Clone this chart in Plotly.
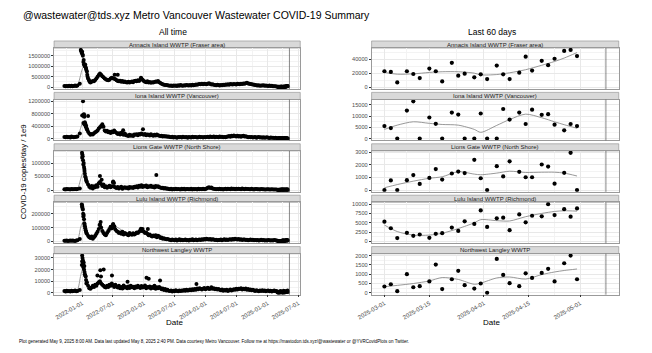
import pandas as pd
import plotly.graph_objects as go

nan = float("nan")
W, H = 652, 353
FONT = "Liberation Sans, Arial, sans-serif"

SITES = [
    "Annacis Island WWTP (Fraser area)",
    "Iona Island WWTP (Vancouver)",
    "Lions Gate WWTP (North Shore)",
    "Lulu Island WWTP (Richmond)",
    "Northwest Langley WWTP",
]

TITLE = "@wastewater@tds.xyz Metro Vancouver Wastewater COVID-19 Summary"
FOOTER = ("Plot generated May 9, 2025 8:00 AM. Data last updated May 8, 2025 2:40 PM. "
          "Data courtesy Metro Vancouver. Follow me at https://mastodon.tds.xyz/@wastewater "
          "or @YVRCovidPlots on Twitter.")
GENERATED = "2025-05-09"

# ---------------- "All time" data: weekly readings (thousands), from 2021-09-18 ----------------
WEEKLY_START = "2021-09-18"

annacis_weekly_k = [
    55, 45, 60, 40, 70, 50, 65, 45, 60, 75, 55, 80, nan, 160, nan,
    1700, 1200, 1050, 950, 750, 420,
    300, 230, 260, 300, 280, 340, 420, 500, 580, 650,
    600, 520, 470, 420, 380, 340, 330, 360, 410, 450,
    430, 400, 380, 330, 300, 280, 310, 260, 290, 250,
    270, 240, 230, 260, 220, 250, 270, 240, 290, 310,
    280, 330, 300, 360, 420, 350, 300, 260, 240, 280,
    230, 250, 210, 240, 220, 250, 270, 260, 290, 240,
    200, 160, 140, 120, 100, 110, 90, 80, 70, 85,
    60, 75, 65, 80, 60, 90, 70, 100, 85, 65,
    95, 80, 110, 90, 75, 100, 85, 120, 95, 110,
    130, 120, 140, 150, 135, 160, 145, 170, 150, 140,
    160, 190, 150, 130, 140, 120, 110, 90, 120, 100,
    85, 110, 95, 120, 105, 130, 115, 135, 120, 150,
    140, 125, 155, 145, 130, 160, 150, 140, 170, 155,
    175, 160, 190, 210, 180, 170, 150, 140, 130, 120,
    100, 90, 80, 95, 70, 85, 75, 90, 65, 80,
    70, 60, 75, 55, 65, 50, 45, 40, 35,
]
iona_weekly_k = [
    50, 40, 60, 45, 55, 35, 65, 50, 40, 55, 60, 70, nan, 160, nan,
    740, 500, 450, 380, 300, 220,
    160, 120, 150, 130, 170, 200, 230, 260, 320, 360,
    400, 460, 380, 260, 230, 250, 200, 220, 180, 230,
    200, 260, 210, 180, 150, 170, 130, 190, 140, 120,
    160, 110, 100, 80, 120, 90, 110, 85, 130, 120,
    140, 110, 150, 130, 160, 140, 120, 150, 110, 130,
    120, 100, 140, 110, 90, 120, 100, 130, 110, 95,
    80, 90, 70, 85, 65, 75, 60, 70, 55, 40,
    60, 35, 50, 45, 30, 55, 40, 50, 35, 60,
    45, 40, 55, 30, 50, 45, 35, 60, 40, 50,
    55, 35, 45, 60, 40, 50, 35, 55, 45, 50,
    60, 45, 70, 55, 50, 65, 40, 60, 55, 45,
    70, 50, 60, 45, 55, 40, 60, 70, 85, 60,
    90, 75, 100, 80, 65, 95, 70, 85, 60, 80,
    90, 65, 75, 60, 45, 55, 40, 50, 35, 45,
    55, 30, 40, 50, 35, 45, 30, 40, 25, 35,
    45, 30, 20, 35, 25, 30, 20, 28, 18,
]
lions_weekly_k = [
    3, 2, 3.5, 2.5, 3, 2, 4, 3, 2.5, 3.5, 3, 4, nan, 6, nan,
    120, 95, 70, 45, 30, 20,
    12, 8, 15, 6, 14, 10, 18, 12, 25, 30,
    22, 15, 20, 10, 14, 8, 12, 16, 10, 14,
    28, 12, 9, 7, 11, 6, 9, 12, 5, 8,
    10, 7, 9, 6, 11, 8, 10, 7, 12, 10,
    14, 9, 16, 12, 18, 11, 15, 13, 17, 10,
    14, 12, 16, 11, 13, 9, 15, 12, 14, 10,
    9, 7, 8, 6, 7, 5, 6, 4, 3, 5,
    2, 4, 3, 5, 2.5, 4, 3, 2, 4.5, 3,
    5, 2, 3.5, 4, 2.5, 3, 5, 2, 4, 3,
    3.5, 2, 4.5, 3, 4, 2.5, 5, 3, 4, 6,
    8, 10, 7, 9, 6, 5, 4, 3, 4, 2.5,
    5, 3, 4, 2, 3.5, 4.5, 3, 5, 4, 3,
    6, 4, 5, 3, 4.5, 3.5, 5, 4, 3, 6,
    4, 3, 5, 3.5, 4, 2.5, 3, 4.5, 3, 2,
    3.5, 4, 2.5, 3, 2, 3.5, 2.5, 3, 2, 1.5,
    3, 2.5, 2, 1.5, 2.5, 2, 1.8, 2.2, 1.5,
]
lulu_weekly_k = [
    5, 4, 6, 3, 5, 7, 4, 6, 5, 3, 6, 8, nan, 17, nan,
    250, 180, 120, 80, 55, 40,
    30, 25, 35, 20, 30, 40, 55, 70, 90, 120,
    100, 75, 60, 50, 45, 60, 75, 90, 105, 95,
    120, 100, 85, 75, 70, 60, 65, 55, 70, 50,
    60, 55, 50, 45, 60, 52, 48, 58, 50, 55,
    65, 60, 70, 80, 75, 90, 70, 60, 65, 55,
    45, 50, 40, 35, 42, 38, 45, 30, 40, 35,
    25, 28, 20, 22, 18, 15, 17, 14, 12, 8,
    14, 10, 9, 13, 7, 11, 15, 9, 12, 8,
    10, 14, 9, 11, 7, 12, 10, 15, 8, 11,
    13, 9, 12, 14, 10, 16, 12, 18, 14, 20,
    16, 14, 18, 12, 15, 13, 10, 12, 9, 11,
    10, 13, 9, 12, 15, 11, 14, 10, 13, 16,
    12, 18, 14, 20, 16, 13, 17, 12, 15, 11,
    14, 13, 10, 12, 9, 11, 14, 10, 12, 9,
    10, 8, 11, 7, 9, 12, 8, 10, 6, 9,
    7, 11, 8, 6, 9, 7, 10, 8, 6,
]
langley_weekly_k = [
    1.5, 1.2, 1.8, 1.4, 1.6, 1.1, 1.7, 1.3, 1.5, 1.9, 1.4, 1.6, nan, 2.5, nan,
    27, 22, 18, 14, 9, 6,
    4, 3.5, 4.5, 6, 5, 7, 6, 8, 9, 10,
    8, 7, 6, 5, 4.5, 6, 5, 7, 6, 8,
    6.5, 5, 7, 5.5, 4.5, 6, 4, 5, 3.8, 6.2,
    4.5, 5, 4, 5.5, 4.2, 6, 4.8, 5.2, 4, 5.5,
    4.5, 6, 5, 4.2, 5.8, 4.6, 5, 6.2, 4, 5,
    4.5, 5.5, 3.8, 5, 4.2, 6, 3.5, 4.8, 4, 5,
    4.2, 3, 3.8, 2.5, 3.2, 2, 2.6, 1.8, 1.5, 2,
    1.2, 1.8, 1.4, 2.2, 1.6, 1.3, 1.9, 1.5, 2.1, 1.7,
    2.4, 1.8, 2.6, 2, 2.3, 2.8, 2.2, 3, 2.5, 3.2,
    2.6, 3.8, 3, 4, 3.4, 2.8, 3.6, 4.2, 3, 3.8,
    4.4, 3.2, 3.6, 4.8, 3.4, 4, 3, 3.5, 2.8, 3.2,
    2.6, 2.2, 2.8, 1.8, 2.4, 2, 2.6, 1.6, 2.2, 2.8,
    2, 2.4, 3, 2.6, 3.4, 2.8, 3.6, 3.2, 4, 2.8,
    3.4, 3, 3.8, 2.6, 3.2, 2.4, 2.9, 2.2, 2.6, 2,
    1.6, 2.2, 1.8, 1.4, 2, 1.6, 2.3, 1.5, 1.9, 1.3,
    1.7, 2.1, 1.4, 1.8, 1.2, 1.6, 1.9, 1.3, 1.5,
]

# extra (peak / outlier) readings, thousands
annacis_extra_dates = ["2021-12-24", "2021-12-27", "2021-12-29", "2022-01-03", "2022-01-05", "2022-01-10",
                       "2022-01-12", "2022-01-17", "2022-01-19", "2022-01-24", "2022-01-26", "2022-01-31",
                       "2022-02-02", "2022-02-09", "2022-02-16", "2022-07-12", "2022-07-30", "2022-12-14"]
annacis_extra_k = [1780, 1720, 1650, 1580, 1500, 1300, 1100, 1000, 1080, 880, 820, 600, 500, 350, 250, 600, 590, 450]

iona_extra_dates = ["2022-01-06", "2022-01-08", "2022-01-10", "2022-01-12", "2022-01-14", "2022-01-17",
                    "2022-01-19", "2022-01-24", "2022-01-26", "2022-01-31", "2022-02-05", "2022-08-31",
                    "2022-12-26"]
iona_extra_k = [1190, 760, 720, 780, 700, 520, 480, 420, 350, 280, 720, 270, 300]

lions_extra_dates = ["2021-12-31", "2022-01-02", "2022-01-04", "2022-01-06", "2022-01-10", "2022-01-12",
                     "2022-01-14", "2022-01-17", "2022-01-19", "2022-01-24", "2022-01-26", "2022-04-16",
                     "2022-04-26", "2022-07-03", "2022-07-08", "2023-03-15"]
lions_extra_k = [138, 132, 125, 110, 100, 85, 78, 60, 50, 38, 33, 52, 38, 32, 26, 56]

lulu_extra_dates = ["2021-12-30", "2022-01-01", "2022-01-03", "2022-01-05", "2022-01-07", "2022-01-10",
                    "2022-01-12", "2022-01-14", "2022-01-17", "2022-01-19", "2022-01-24", "2022-01-26",
                    "2022-04-14", "2022-04-20", "2022-07-03", "2022-07-10", "2022-12-14", "2023-01-24"]
lulu_extra_k = [268, 255, 240, 230, 200, 190, 160, 130, 110, 95, 70, 60, 118, 140, 125, 110, 92, 90]

langley_extra_dates = ["2021-12-30", "2022-01-01", "2022-01-03", "2022-01-05", "2022-01-07", "2022-01-10",
                       "2022-01-12", "2022-01-14", "2022-01-17", "2022-01-19", "2022-01-24", "2022-01-26",
                       "2022-04-01", "2022-04-18", "2022-04-22", "2022-05-08", "2022-06-26", "2022-09-26",
                       "2023-01-16", "2023-01-29", "2023-04-06", "2023-11-07"]
langley_extra_k = [24, 32, 30, 28, 25, 26, 20, 23, 16, 15, 11, 8, 15, 19.5, 14, 20, 15, 9.5, 13, 12, 10.5, 7.5]

# smoothed trend (grey line) in the "All time" panels, thousands
SMOOTH_ALL_DATES = ["2021-09-20", "2021-11-01", "2021-12-01", "2021-12-12", "2021-12-22", "2022-01-01",
                    "2022-01-09", "2022-01-20", "2022-02-05", "2022-03-01", "2022-04-15", "2022-06-01",
                    "2022-07-15", "2022-10-01", "2022-12-15", "2023-03-01", "2023-06-01", "2023-09-01",
                    "2024-01-01", "2024-05-01", "2024-09-01", "2025-01-01", "2025-04-30"]
annacis_smooth_k = [55, 55, 60, 250, 550, 850, 960, 800, 400, 280, 580, 350, 420, 260, 330, 240, 90, 75, 130, 110, 140, 70, 45]
iona_smooth_k = [50, 50, 55, 150, 320, 470, 510, 400, 220, 150, 350, 210, 220, 110, 140, 110, 50, 45, 55, 50, 75, 35, 8]
lions_smooth_k = [3, 3, 3, 15, 38, 58, 67, 50, 20, 12, 22, 12, 15, 8, 13, 11, 4, 3.5, 6, 3.5, 4, 3, 1.5]
lulu_smooth_k = [5, 5, 6, 35, 95, 130, 140, 110, 45, 28, 105, 55, 105, 55, 75, 38, 12, 11, 16, 11, 14, 8, 6]
langley_smooth_k = [1.5, 1.5, 1.5, 6, 14, 19.5, 21, 15, 5.5, 5, 9, 5.5, 5.5, 4.8, 5, 4.5, 1.8, 2.3, 3.6, 2.5, 3, 1.7, 1.2]

# ---------------- "Last 60 days" data ----------------
RECENT_DATES = ["2025-03-01", "2025-03-03", "2025-03-05", "2025-03-08", "2025-03-10", "2025-03-12",
                "2025-03-15", "2025-03-17", "2025-03-19", "2025-03-22", "2025-03-24", "2025-03-26",
                "2025-03-29", "2025-03-31", "2025-04-02", "2025-04-05", "2025-04-07", "2025-04-09",
                "2025-04-12", "2025-04-14", "2025-04-16", "2025-04-19", "2025-04-21", "2025-04-23",
                "2025-04-26", "2025-04-28", "2025-04-30"]
annacis_recent = [22700, 21700, 6800, 22700, 18800, 13000, 26500, 22700, 8200, 34700, 16400, 19300, 14000,
                  18300, 11600, 30800, 18300, 11600, 20700, 43400, 23600, 37600, 31300, 40500, 51600, 53000, 44300]
iona_recent = [5600, 4700, 0, 12500, 16600, 0, 9400, 6600, 0, 11600, 10700, 0, 0,
               11200, 0, 0, 13200, 8500, 11600, 6500, 12900, 10600, 10900, 6200, 3700, 6500, 5600]
lions_recent = [0, 760, 0, 780, 1180, 480, 960, 1660, 830, 1310, 1460, 1340, 2390,
                930, 0, 1890, 1080, 2270, 1440, 1010, 1010, 2020, 1860, 500, 1360, 2950, 0]
lulu_recent = [5300, 3540, 890, 2300, 1500, 1860, 970, 2040, 2210, 3720, 2830, 5400, 4690,
               8320, 3890, 6190, 6370, 3010, 7260, 5130, 6900, 6730, 10000, 7080, 8670, 6640, 8850]
langley_recent = [340, 460, 90, 1000, 300, 360, 610, 1520, 200, 730, 1180, 410, 230,
                  500, 0, 1820, 960, 520, 360, 1050, 800, 1070, 1290, 610, 1590, 2000, 730]

RECENT_SMOOTH_DATES = ["2025-03-01", "2025-03-05", "2025-03-10", "2025-03-15", "2025-03-19", "2025-03-24",
                       "2025-03-29", "2025-03-31", "2025-04-05", "2025-04-09", "2025-04-14", "2025-04-19",
                       "2025-04-23", "2025-04-26", "2025-04-30"]
annacis_recent_smooth = [21000, 18500, 19000, 21000, 22000, 22000, 20000, 17600, 18000, 20500, 24900, 31200, 36600, 41500, 49300]
iona_recent_smooth = [4100, 6000, 7500, 6800, 6300, 6000, 4100, 2800, 5900, 8500, 10900, 9300, 7500, 6200, 4600]
lions_recent_smooth = [180, 430, 700, 930, 1050, 1450, 1260, 1210, 1340, 1490, 1390, 1410, 1410, 1340, 1110]
lulu_recent_smooth = [4400, 2650, 1700, 1700, 2200, 3450, 5000, 5840, 5580, 5490, 6640, 7520, 8050, 8230, 8140]
langley_recent_smooth = [330, 400, 500, 640, 820, 720, 460, 520, 800, 850, 740, 980, 1120, 1200, 1280]

# ---------------- axes ticks ----------------
ALL_X_TICKS = ["2022-01-01", "2022-07-01", "2023-01-01", "2023-07-01", "2024-01-01",
               "2024-07-01", "2025-01-01", "2025-07-01"]
ALL_X_MINOR = ["2021-10-01", "2022-04-01", "2022-10-01", "2023-04-01", "2023-10-01",
               "2024-04-01", "2024-10-01", "2025-04-01"]
ALL_X_RANGE = ["2021-07-19", "2025-07-12"]
RECENT_X_TICKS = ["2025-03-01", "2025-03-15", "2025-04-01", "2025-04-15", "2025-05-01"]
RECENT_X_MINOR = ["2025-03-08", "2025-03-23 12:00", "2025-04-08", "2025-04-23", "2025-05-08 12:00"]
RECENT_X_RANGE = ["2025-02-25", "2025-05-13"]

ALL_Y_TICKS = [
    [0, 500000, 1000000, 1500000],
    [0, 400000, 800000, 1200000],
    [0, 50000, 100000],
    [0, 100000, 200000],
    [0, 10000, 20000, 30000],
]
RECENT_Y_TICKS = [
    [0, 20000, 40000],
    [0, 5000, 10000, 15000],
    [0, 1000, 2000, 3000],
    [0, 2500, 5000, 7500, 10000],
    [0, 500, 1000, 1500, 2000],
]

weekly = [annacis_weekly_k, iona_weekly_k, lions_weekly_k, lulu_weekly_k, langley_weekly_k]
extra_d = [annacis_extra_dates, iona_extra_dates, lions_extra_dates, lulu_extra_dates, langley_extra_dates]
extra_v = [annacis_extra_k, iona_extra_k, lions_extra_k, lulu_extra_k, langley_extra_k]
smooth_all = [annacis_smooth_k, iona_smooth_k, lions_smooth_k, lulu_smooth_k, langley_smooth_k]
recent = [annacis_recent, iona_recent, lions_recent, lulu_recent, langley_recent]
recent_smooth = [annacis_recent_smooth, iona_recent_smooth, lions_recent_smooth, lulu_recent_smooth, langley_recent_smooth]


def ypx(p):
    return 1 - p / H


def xpx(p):
    return p / W


LEFT_X = (41, 293)
RIGHT_X = (366, 619)

fig = go.Figure()
layout = {}
shapes = []
annotations = []

GRID = "#e8e8e8"
MINOR = "#f3f3f3"
BORDER = "#9a9a9a"
TICKFONT = dict(family=FONT, size=5.6, color="#4d4d4d")

for i, site in enumerate(SITES):
    top = 39.3 + 51.85 * i
    strip_bot = top + 7.2
    panel_bot = top + 48.5
    ydom = [ypx(panel_bot), ypx(strip_bot)]
    for j in range(2):
        n = i * 2 + j + 1
        xs = "x" if n == 1 else f"x{n}"
        ys = "y" if n == 1 else f"y{n}"
        if j == 0:
            wd = pd.date_range(WEEKLY_START, periods=len(weekly[i]), freq="7D")
            xd = list(wd) + list(pd.to_datetime(extra_d[i])) + list(pd.to_datetime(RECENT_DATES))
            yv = [v * 1000 for v in weekly[i]] + [v * 1000 for v in extra_v[i]] + list(recent[i])
            sx = pd.to_datetime(SMOOTH_ALL_DATES)
            sy = [v * 1000 for v in smooth_all[i]]
            msize = 4.0
            xr, xt, xm = ALL_X_RANGE, ALL_X_TICKS, ALL_X_MINOR
            ticks_y = ALL_Y_TICKS[i]
            xl = LEFT_X
        else:
            xd = list(pd.to_datetime(RECENT_DATES))
            yv = list(recent[i])
            sx = pd.to_datetime(RECENT_SMOOTH_DATES)
            sy = list(recent_smooth[i])
            msize = 4.2
            xr, xt, xm = RECENT_X_RANGE, RECENT_X_TICKS, RECENT_X_MINOR
            ticks_y = RECENT_Y_TICKS[i]
            xl = RIGHT_X

        fig.add_trace(go.Scatter(x=sx, y=sy, mode="lines", line=dict(color="#8c8c8c", width=0.9, shape="spline", smoothing=0.8),
                                 xaxis=xs, yaxis=ys, showlegend=False, hoverinfo="skip"))
        fig.add_trace(go.Scatter(x=xd, y=yv, mode="markers", marker=dict(color="black", size=msize, line=dict(width=0)),
                                 xaxis=xs, yaxis=ys, showlegend=False))

        vals = [v for v in yv + sy if v == v]
        M = max(vals + [0])
        yr = [-0.05 * M, 1.05 * M]
        step = ticks_y[1] - ticks_y[0]
        yminor = [ticks_y[0] + step * (k + 0.5) for k in range(-1, len(ticks_y))]

        bottom = (i == len(SITES) - 1)
        layout["xaxis" if n == 1 else f"xaxis{n}"] = dict(
            domain=[xpx(xl[0]), xpx(xl[1])], anchor=ys, type="date", range=xr,
            tickmode="array", tickvals=xt, tickformat="%Y-%m-%d", tickangle=-30,
            showticklabels=bottom, ticks="outside" if bottom else "", ticklen=2, tickwidth=0.6,
            tickcolor="#333333", tickfont=dict(family=FONT, size=6, color="#4d4d4d"),
            showgrid=True, gridcolor=GRID, gridwidth=0.7,
            minor=dict(tickmode="array", tickvals=xm, showgrid=True, gridcolor=MINOR, gridwidth=0.5, ticks=""),
            showline=True, mirror=True, linecolor=BORDER, linewidth=0.6, zeroline=False,
        )
        layout["yaxis" if n == 1 else f"yaxis{n}"] = dict(
            domain=ydom, anchor=xs, range=yr, tickmode="array", tickvals=ticks_y, tickformat="d",
            ticks="outside", ticklen=2, tickwidth=0.6, tickcolor="#333333", tickfont=TICKFONT,
            showgrid=True, gridcolor=GRID, gridwidth=0.7,
            minor=dict(tickmode="array", tickvals=yminor, showgrid=True, gridcolor=MINOR, gridwidth=0.5, ticks=""),
            showline=True, mirror=True, linecolor=BORDER, linewidth=0.6, zeroline=False,
        )
        shapes.append(dict(type="line", xref=xs, yref=f"{ys} domain", x0=GENERATED, x1=GENERATED, y0=0, y1=1,
                           line=dict(color="#555555", width=0.7), layer="above"))
        shapes.append(dict(type="rect", xref="paper", yref="paper", x0=xpx(xl[0]), x1=xpx(xl[1]),
                           y0=ypx(strip_bot), y1=ypx(top), fillcolor="#d9d9d9", layer="below",
                           line=dict(color="#8c8c8c", width=0.6)))
        annotations.append(dict(text=site, xref="paper", yref="paper", x=xpx((xl[0] + xl[1]) / 2),
                                y=ypx(top + 3.6), xanchor="center", yanchor="middle", showarrow=False,
                                font=dict(family=FONT, size=6, color="#1a1a1a")))

annotations += [
    dict(text=TITLE, x=xpx(7), y=ypx(12.8), xanchor="left", yanchor="middle",
         font=dict(family=FONT, size=10.5, color="black")),
    dict(text="All time", x=xpx(162.5), y=ypx(30.5), xanchor="center", yanchor="middle",
         font=dict(family=FONT, size=8.5, color="black")),
    dict(text="Last 60 days", x=xpx(489), y=ypx(30.5), xanchor="center", yanchor="middle",
         font=dict(family=FONT, size=8.5, color="black")),
    dict(text="COVID-19 copies/day / 1e9", x=xpx(10), y=ypx(171), textangle=-90, xanchor="center",
         yanchor="middle", font=dict(family=FONT, size=7.8, color="black")),
    dict(text="Date", x=xpx(164), y=ypx(323.3), xanchor="center", yanchor="middle",
         font=dict(family=FONT, size=8, color="black")),
    dict(text="Date", x=xpx(488.7), y=ypx(323.3), xanchor="center", yanchor="middle",
         font=dict(family=FONT, size=8, color="black")),
    dict(text=FOOTER, x=xpx(2.7), y=ypx(342.3), xanchor="left", yanchor="middle",
         font=dict(family=FONT, size=4.5, color="black")),
]
for a in annotations[-7:]:
    a.update(xref="paper", yref="paper", showarrow=False)

fig.update_layout(
    width=W, height=H, margin=dict(l=0, r=0, t=0, b=0),
    paper_bgcolor="white", plot_bgcolor="white",
    font=dict(family=FONT), showlegend=False,
    shapes=shapes, annotations=annotations, **layout,
)
fig.write_html("out.html")
